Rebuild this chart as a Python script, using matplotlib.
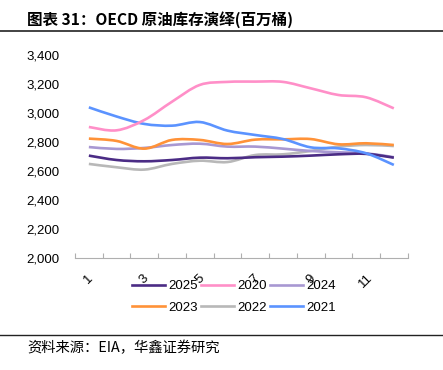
import matplotlib
matplotlib.use("Agg")
import matplotlib.pyplot as plt
from matplotlib.path import Path
from matplotlib.patches import PathPatch
from matplotlib.lines import Line2D
import numpy as np

months = list(range(1, 13))
tick_labels = ["1", "3", "5", "7", "9", "11"]

s2025 = [2706, 2676, 2667, 2676, 2692, 2688, 2695, 2699, 2706, 2715, 2718, 2692]
s2020 = [2903, 2880, 2951, 3077, 3192, 3213, 3215, 3213, 3169, 3123, 3107, 3031]
s2024 = [2765, 2752, 2759, 2779, 2788, 2768, 2768, 2754, 2738, 2729, 2722, 2695]
s2023 = [2823, 2807, 2754, 2814, 2814, 2786, 2816, 2818, 2820, 2784, 2791, 2779]
s2022 = [2649, 2626, 2610, 2649, 2671, 2662, 2710, 2715, 2738, 2768, 2779, 2772]
s2021 = [3038, 2975, 2924, 2912, 2937, 2878, 2848, 2820, 2763, 2756, 2722, 2642]

series = [
    ("2025", s2025, "#4B2C85"),
    ("2020", s2020, "#FF8FC8"),
    ("2024", s2024, "#A898D2"),
    ("2023", s2023, "#FF9238"),
    ("2022", s2022, "#B8B8B8"),
    ("2021", s2021, "#5B93FF"),
]

CJK = ["Noto Sans CJK SC", "DejaVu Sans"]
LAT = ["Liberation Sans", "Noto Sans CJK SC"]

fig = plt.figure(figsize=(4.43, 3.70), dpi=100)
ax = fig.add_axes([75/443, (370-258.3)/370, (407.7-75)/443, (258.3-54.7)/370])


def smooth_path(xs, ys):
    xs = np.asarray(xs, float)
    ys = np.asarray(ys, float)
    n = len(xs)
    verts = [(xs[0], ys[0])]
    codes = [Path.MOVETO]
    for i in range(n - 1):
        p0 = np.array([xs[max(i-1, 0)], ys[max(i-1, 0)]])
        p1 = np.array([xs[i], ys[i]])
        p2 = np.array([xs[i+1], ys[i+1]])
        p3 = np.array([xs[min(i+2, n-1)], ys[min(i+2, n-1)]])
        c1 = p1 + (p2 - p0) / 6.0
        c2 = p2 - (p3 - p1) / 6.0
        verts += [tuple(c1), tuple(c2), tuple(p2)]
        codes += [Path.CURVE4] * 3
    return Path(verts, codes)


order = ["2022", "2024", "2025", "2023", "2021", "2020"]
handles = {}
for name, vals, col in series:
    p = PathPatch(smooth_path(months, vals), fill=False, edgecolor=col,
                  lw=1.9, capstyle="butt", joinstyle="round",
                  zorder=3 + order.index(name))
    ax.add_patch(p)
    handles[name] = Line2D([], [], color=col, lw=1.9)

ax.set_xlim(0.5, 12.5)
ax.set_ylim(2000, 3400)
ax.set_yticks(np.arange(2000, 3401, 200))
ax.set_yticklabels([f"{v:,}" for v in range(2000, 3401, 200)],
                   family=LAT, fontsize=9.5)
ax.set_xticks([1, 3, 5, 7, 9, 11])
ax.set_xticklabels(tick_labels, rotation=45, family=LAT, fontsize=9.5,
                   ha="center", va="top")
ax.set_xticks(np.arange(0.5, 12.51, 1), minor=True)
ax.tick_params(axis="x", which="major", length=0, pad=10)
ax.tick_params(axis="x", which="minor", direction="in", length=3.5,
               color="#AFAFAF", width=0.8)
ax.tick_params(axis="y", length=0, pad=11)
for s in ["top", "right", "left"]:
    ax.spines[s].set_visible(False)
ax.spines["bottom"].set_color("#AFAFAF")
ax.spines["bottom"].set_linewidth(0.8)

# row-wise legend layout: 2025 2020 2024 / 2023 2022 2021 (filled column-major)
names = ["2025", "2023", "2020", "2022", "2024", "2021"]
leg = fig.legend([handles[n] for n in names], names, ncol=3,
                 loc="center", bbox_to_anchor=(234/443, (370-297)/370),
                 frameon=False, handlelength=2.5, handletextpad=0.2,
                 columnspacing=0.3, labelspacing=0.7,
                 prop={"family": LAT, "size": 9.5})

fig.text(27/443, (370-20)/370, "图表 31：OECD 原油库存演绎(百万桶)",
         family=CJK, fontweight="bold", fontsize=11.2, va="center", ha="left")
fig.add_artist(Line2D([0, 1], [(370-31)/370]*2, color="#222222", lw=1.2,
                      transform=fig.transFigure))
fig.add_artist(Line2D([0, 1], [(370-335)/370]*2, color="#222222", lw=1.0,
                      transform=fig.transFigure))
fig.text(27/443, (370-348)/370, "资料来源：EIA，华鑫证券研究",
         family=CJK, fontsize=10.3, va="center", ha="left")

fig.savefig("out.png", dpi=100)
